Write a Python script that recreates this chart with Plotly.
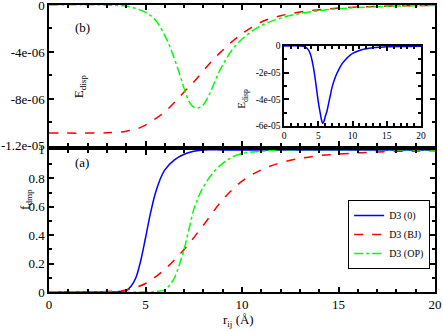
import plotly.graph_objects as go

# ---- data ----
# (a) damping functions f_dmp(r)
r_zero = [0, 3, 3.5, 4, 4.25, 4.5, 4.75, 5, 5.25, 5.5, 5.75, 6, 6.5, 7, 7.5, 8, 9, 10, 20]
f_zero = [0, 0, 0.002, 0.01, 0.04, 0.1, 0.22, 0.38, 0.55, 0.69, 0.79, 0.86, 0.93, 0.97, 0.99, 1.0, 1.0, 1.0, 1.0]

r_bj = [0, 2, 3, 4, 5, 6, 7, 8, 9, 10, 11, 12, 13, 14, 15, 16, 17, 18, 19, 20]
f_bj = [0, 0, 0.003, 0.015, 0.06, 0.16, 0.3, 0.47, 0.65, 0.78, 0.86, 0.91, 0.94, 0.96, 0.97, 0.98, 0.985, 0.99, 0.992, 0.995]

r_op = [0, 5, 5.5, 6, 6.25, 6.5, 6.75, 7, 7.25, 7.5, 7.75, 8, 8.5, 9, 9.5, 10, 11, 12, 20]
f_op = [0, 0, 0.003, 0.015, 0.05, 0.1, 0.19, 0.3, 0.44, 0.58, 0.67, 0.74, 0.84, 0.905, 0.95, 0.975, 0.99, 1.0, 1.0]

# (b) dispersion energies E_disp(r)
r_e_bj = [0, 3, 4, 4.75, 5.5, 6, 6.5, 7, 7.5, 8, 8.5, 9, 9.5, 10, 11, 12, 13, 14, 15, 16, 17, 18, 19, 20]
e_bj = [-10.9e-6, -10.88e-6, -10.75e-6, -10.42e-6, -9.7e-6, -9.1e-6, -8.3e-6, -7.4e-6, -6.55e-6, -5.6e-6,
        -4.65e-6, -3.85e-6, -3.1e-6, -2.45e-6, -1.45e-6, -0.92e-6, -0.6e-6, -0.4e-6, -0.26e-6, -0.17e-6,
        -0.12e-6, -0.08e-6, -0.055e-6, -0.04e-6]

r_e_op = [0, 3, 4, 4.5, 5, 5.5, 6, 6.25, 6.5, 6.75, 7, 7.25, 7.5, 7.75, 8, 8.25, 8.5, 8.75, 9, 9.5, 10,
          10.5, 11, 12, 13, 14, 15, 16, 17, 18, 19, 20]
e_op = [0, 0, -0.1e-6, -0.3e-6, -0.62e-6, -1.25e-6, -2.6e-6, -3.5e-6, -4.6e-6, -5.8e-6, -7.1e-6, -8.2e-6,
        -8.7e-6, -8.75e-6, -8.5e-6, -7.8e-6, -6.9e-6, -5.9e-6, -5.1e-6, -3.8e-6, -2.9e-6, -2.25e-6,
        -1.75e-6, -1.12e-6, -0.72e-6, -0.48e-6, -0.32e-6, -0.21e-6, -0.14e-6, -0.09e-6, -0.06e-6, -0.04e-6]

# inset: zero-damping energy
r_e_zero = [0, 2.5, 3, 3.5, 3.8, 4, 4.25, 4.5, 4.75, 5, 5.25, 5.5, 5.65, 5.85, 6, 6.25, 6.5, 6.75, 7, 7.5,
            8, 8.5, 9, 9.5, 10, 11, 12, 13, 14, 15, 17, 20]
e_zero = [0, 0, -0.05e-5, -0.25e-5, -0.55e-5, -0.9e-5, -1.5e-5, -2.3e-5, -3.25e-5, -4.2e-5, -4.95e-5,
          -5.6e-5, -5.8e-5, -5.6e-5, -5.3e-5, -4.9e-5, -4.3e-5, -3.7e-5, -3.1e-5, -2.3e-5, -1.75e-5,
          -1.3e-5, -1.0e-5, -0.75e-5, -0.55e-5, -0.33e-5, -0.2e-5, -0.13e-5, -0.09e-5, -0.06e-5,
          -0.03e-5, -0.01e-5]

top_ticks = [0, -4e-6, -8e-6, -1.2e-5]
top_labels = ["0", "-4e-06", "-8e-06", "-1.2e-05"]
bot_ticks = [0, 0.2, 0.4, 0.6, 0.8, 1]
bot_labels = ["0", "0.2", "0.4", "0.6", "0.8", "1"]
ins_ticks = [0, -2e-5, -4e-5, -6e-5]
ins_labels = ["0", "-2e-05", "-4e-05", "-6e-05"]

BLUE, RED, GREEN = "#0000ff", "#ff0000", "#00ff00"
FONT = "Liberation Serif"

fig = go.Figure()

# bottom panel (a)
fig.add_trace(go.Scatter(x=r_zero, y=f_zero, name="D3 (0)", mode="lines", line_shape="spline",
                         line=dict(color=BLUE, width=1.5), xaxis="x", yaxis="y"))
fig.add_trace(go.Scatter(x=r_bj, y=f_bj, name="D3 (BJ)", mode="lines", line_shape="spline",
                         line=dict(color=RED, width=1.5, dash="dash"), xaxis="x", yaxis="y"))
fig.add_trace(go.Scatter(x=r_op, y=f_op, name="D3 (OP)", mode="lines", line_shape="spline",
                         line=dict(color=GREEN, width=1.5, dash="dashdot"), xaxis="x", yaxis="y"))

# top panel (b)
fig.add_trace(go.Scatter(x=r_e_bj, y=e_bj, mode="lines", line_shape="spline", showlegend=False,
                         line=dict(color=RED, width=1.5, dash="dash"), xaxis="x2", yaxis="y2"))
fig.add_trace(go.Scatter(x=r_e_op, y=e_op, mode="lines", line_shape="spline", showlegend=False,
                         line=dict(color=GREEN, width=1.5, dash="dashdot"), xaxis="x2", yaxis="y2"))

# inset
fig.add_trace(go.Scatter(x=r_e_zero, y=e_zero, mode="lines", line_shape="spline", showlegend=False,
                         line=dict(color=BLUE, width=1.5), xaxis="x3", yaxis="y3"))

axis_style = dict(showline=True, linecolor="black", linewidth=1.5, mirror="ticks",
                  ticks="inside", ticklen=5, tickwidth=1.5, tickcolor="black",
                  showgrid=False, zeroline=False, automargin=False, ticklabeloverflow="allow")

fig.update_layout(
    width=443, height=332,
    margin=dict(l=49, r=8, t=5, b=40),
    paper_bgcolor="white", plot_bgcolor="white",
    font=dict(family=FONT, size=13, color="black"),
    xaxis=dict(domain=[0, 1], anchor="y", range=[0, 20], dtick=5,
               minor=dict(ticks="inside", dtick=1, ticklen=3, tickcolor="black"), **axis_style),
    yaxis=dict(domain=[0, 0.495], anchor="x", range=[0, 1], tickvals=bot_ticks, ticktext=bot_labels,
               minor=dict(ticks="inside", dtick=0.1, ticklen=3, tickcolor="black"), **axis_style),
    xaxis2=dict(domain=[0, 1], anchor="y2", range=[0, 20], dtick=5, showticklabels=False,
                minor=dict(ticks="inside", dtick=1, ticklen=3, tickcolor="black"), **axis_style),
    yaxis2=dict(domain=[0.509, 1], anchor="x2", range=[-1.2e-5, 0], tickvals=top_ticks, ticktext=top_labels,
                minor=dict(ticks="inside", dtick=2e-6, ticklen=3, tickcolor="black"), **axis_style),
    xaxis3=dict(domain=[0.609, 0.964], anchor="y3", range=[0, 20], dtick=5,
                tickfont=dict(size=9.5), ticklabelstandoff=0,
                minor=dict(ticks="inside", dtick=1, ticklen=3, tickcolor="black"), **axis_style),
    yaxis3=dict(domain=[0.578, 0.857], anchor="x3", range=[-6e-5, 0], tickvals=ins_ticks, ticktext=ins_labels,
                tickfont=dict(size=9.5), ticklabelstandoff=0,
                minor=dict(ticks="inside", dtick=1e-5, ticklen=3, tickcolor="black"), **axis_style),
    legend=dict(x=0.775, y=0.08, xanchor="left", yanchor="bottom",
                bgcolor="white", bordercolor="black", borderwidth=1,
                font=dict(family=FONT, size=10), itemwidth=30, tracegroupgap=0),
    annotations=[
        dict(text="(b)", x=0.062, y=0.955, xref="paper", yref="paper", showarrow=False,
             font=dict(size=13)),
        dict(text="(a)", x=0.062, y=0.45, xref="paper", yref="paper", showarrow=False,
             font=dict(size=13)),
        dict(text="E<sub>disp</sub>", x=0.054, y=0.767, xref="paper", yref="paper", showarrow=False,
             textangle=-90, font=dict(size=13)),
        dict(text="f<sub>dmp</sub>", x=-0.088, y=0.279, xref="paper", yref="paper", showarrow=False,
             textangle=-90, font=dict(size=13)),
        dict(text="E<sub>disp</sub>", x=0.5, y=0.715, xref="paper", yref="paper", showarrow=False,
             textangle=-90, font=dict(size=11)),
        dict(text="r<sub>ij</sub> (Å)", x=0.49, y=-0.1, xref="paper", yref="paper", showarrow=False,
             yanchor="middle", font=dict(size=13)),
    ],
)

fig.write_html("out.html", config={"displayModeBar": False},
               post_script="document.body.style.margin='0';")
